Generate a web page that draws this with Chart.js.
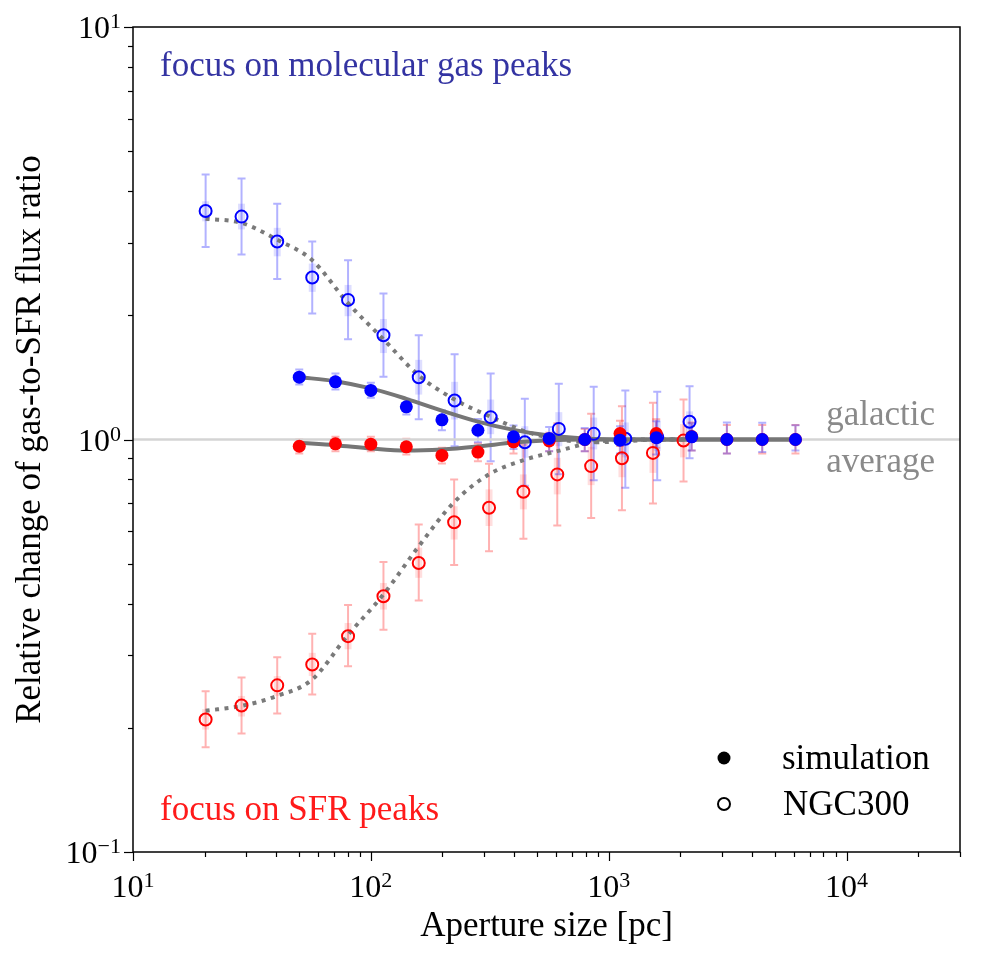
<!DOCTYPE html>
<html>
<head>
<meta charset="utf-8">
<script src="https://cdn.jsdelivr.net/npm/chart.js@4.4.0/dist/chart.umd.min.js"></script>
<style>
  html, body { margin: 0; padding: 0; background: #fff; }
  canvas { display: block; }
</style>
</head>
<body>
<canvas id="grafico" width="988" height="959"></canvas>
<script>
// valores (aperture size em pc, razão relativa)

// simulação
const simX = [50, 71, 100, 141, 199, 282, 398, 562, 793, 1116, 1585, 2233, 3140, 4422, 6100];
const simGas = [1.416, 1.38, 1.315, 1.20, 1.116, 1.053, 1.015, 1.006, 1.0, 0.996, 1.01, 1.015, 1.0, 1.0, 1.0];
const simGasLo = [1.359, 1.322, 1.262, 1.15, 1.053, 0.985, 0.949, 0.937, 0.937, 0.925, 0.92, 0.94, 0.925, 0.932, 0.94];
const simGasHi = [1.478, 1.445, 1.372, 1.255, 1.178, 1.122, 1.081, 1.073, 1.067, 1.077, 1.107, 1.095, 1.10, 1.098, 1.083];
const simSfr = [0.963, 0.976, 0.974, 0.960, 0.915, 0.932, 0.987, 0.992, 1.0, 1.034, 1.034, 1.017, 1.0, 1.0, 1.0];
const simSfrLo = [0.925, 0.937, 0.937, 0.92, 0.875, 0.886, 0.925, 0.937, 0.937, 0.965, 0.955, 0.94, 0.925, 0.925, 0.925];
const simSfrHi = [1.0, 1.015, 1.015, 1.004, 0.955, 0.978, 1.019, 1.038, 1.061, 1.11, 1.12, 1.10, 1.085, 1.085, 1.085];
// curvas contínuas (modelo) da simulação
const simGasFit = [1.416, 1.385, 1.33, 1.255, 1.175, 1.105, 1.055, 1.022, 1.006, 1.0, 1.0, 1.0, 1.0, 1.0, 1.0];
const simSfrFit = [0.982, 0.969, 0.951, 0.94, 0.946, 0.962, 0.983, 0.996, 1.0, 1.0, 1.0, 1.0, 1.0, 1.0, 1.0];

// NGC300 - foco nos picos de gás molecular
const ngcGasX = [20.2, 28.6, 40.4, 56.7, 80.2, 113, 159, 225, 319, 444, 617, 865, 1175, 1600, 2188];
const ngcGas = [3.58, 3.47, 3.02, 2.47, 2.18, 1.79, 1.416, 1.243, 1.133, 0.985, 1.061, 1.032, 1.004, 1.015, 1.104];
const ngcGasLo = [2.93, 2.81, 2.45, 2.02, 1.75, 1.42, 1.12, 0.963, 0.886, 0.773, 0.824, 0.796, 0.764, 0.797, 0.901];
const ngcGasHi = [4.39, 4.29, 3.73, 3.02, 2.72, 2.26, 1.79, 1.61, 1.445, 1.255, 1.365, 1.342, 1.315, 1.305, 1.347];
const ngcGasLo2 = [3.38, 3.23, 2.78, 2.28, 1.99, 1.62, 1.285, 1.118, 1.03, 0.903, 0.963, 0.946, 0.905, 0.937, 0.99];
const ngcGasHi2 = [3.78, 3.73, 3.26, 2.67, 2.37, 1.96, 1.56, 1.38, 1.25, 1.077, 1.165, 1.13, 1.10, 1.107, 1.17];
const ngcGasFit = [3.43, 3.35, 3.05, 2.72, 2.14, 1.75, 1.43, 1.25, 1.135, 1.047, 1.0, 0.985, 0.99, 1.0, 1.0];

// NGC300 - foco nos picos de SFR
const ngcSfrX = [20.2, 28.6, 40.4, 56.7, 80.2, 113, 159, 224, 314, 438, 608, 844, 1137, 1535, 2064];
const ngcSfr = [0.2095, 0.2265, 0.2535, 0.2847, 0.3336, 0.417, 0.502, 0.630, 0.683, 0.747, 0.823, 0.862, 0.901, 0.928, 0.994];
const ngcSfrLo = [0.1795, 0.1937, 0.2167, 0.241, 0.282, 0.346, 0.407, 0.496, 0.536, 0.575, 0.619, 0.645, 0.674, 0.70, 0.791];
const ngcSfrHi = [0.2454, 0.265, 0.2966, 0.338, 0.397, 0.505, 0.622, 0.80, 0.873, 0.971, 1.095, 1.154, 1.204, 1.227, 1.25];
const ngcSfrLo2 = [0.198, 0.213, 0.239, 0.267, 0.310, 0.387, 0.462, 0.572, 0.617, 0.677, 0.736, 0.775, 0.81, 0.83, 0.905];
const ngcSfrHi2 = [0.222, 0.239, 0.267, 0.304, 0.359, 0.449, 0.547, 0.689, 0.757, 0.823, 0.903, 0.96, 1.0, 1.04, 1.09];
const ngcSfrFit = [0.22, 0.226, 0.239, 0.262, 0.336, 0.421, 0.551, 0.705, 0.823, 0.891, 0.937, 0.982, 0.998, 1.0, 1.0];

// linha da média galáctica
const mediaX = [10, 30000];
const mediaY = [1, 1];

// eixos
const xMin = 10, xMax = 30000;
const yMin = 0.1, yMax = 10;
const xMajorTicks = [10, 100, 1000, 10000];
const xTickLabels = ['1', '2', '3', '4'];
const yMajorTicks = [0.1, 1, 10];
const yTickLabels = ['\u22121', '0', '1'];

const FONTE = "'Liberation Serif', 'DejaVu Serif', serif";
const AZUL = '#0000ff';
const VERMELHO = '#ff0000';

function pontos(xs, ys) {
    return xs.map((x, i) => ({ x: x, y: ys[i] }));
}

// ticks logarítmicos: 1..9 x 10^n dentro do intervalo
function ticksLog(min, max) {
    const lista = [];
    for (let e = Math.floor(Math.log10(min)); e <= Math.ceil(Math.log10(max)); e++) {
        for (let m = 1; m <= 9; m++) {
            const v = m * Math.pow(10, e);
            if (v >= min * 0.999 && v <= max * 1.001) lista.push({ value: v });
        }
    }
    return lista;
}

// barras de erro (finas com capa e largas sombreadas)
const barrasErro = [
    { xs: ngcSfrX, lo: ngcSfrLo2, hi: ngcSfrHi2, cor: 'rgba(255,0,0,0.13)', lw: 7, cap: 0 },
    { xs: ngcGasX, lo: ngcGasLo2, hi: ngcGasHi2, cor: 'rgba(0,0,255,0.13)', lw: 7, cap: 0 },
    { xs: ngcSfrX, lo: ngcSfrLo, hi: ngcSfrHi, cor: 'rgba(255,0,0,0.3)', lw: 2, cap: 4 },
    { xs: ngcGasX, lo: ngcGasLo, hi: ngcGasHi, cor: 'rgba(0,0,255,0.3)', lw: 2, cap: 4 },
    { xs: simX, lo: simSfrLo, hi: simSfrHi, cor: 'rgba(255,0,0,0.3)', lw: 2, cap: 4 },
    { xs: simX, lo: simGasLo, hi: simGasHi, cor: 'rgba(0,0,255,0.3)', lw: 2, cap: 4 }
];

function potencia(ctx, exp, x, y, alinhamento) {
    ctx.font = '32px ' + FONTE;
    const wb = ctx.measureText('10').width;
    ctx.font = '22px ' + FONTE;
    const we = ctx.measureText(exp).width;
    const total = wb + we;
    let x0 = x;
    if (alinhamento === 'right') x0 = x - total;
    else if (alinhamento === 'center') x0 = x - total / 2;
    ctx.textAlign = 'left';
    ctx.textBaseline = 'alphabetic';
    ctx.fillStyle = '#000';
    ctx.font = '32px ' + FONTE;
    ctx.fillText('10', x0, y + 11);
    ctx.font = '22px ' + FONTE;
    ctx.fillText(exp, x0 + wb, y + 1);
}

const decoracao = {
    id: 'decoracao',
    beforeDatasetsDraw(chart) {
        const ctx = chart.ctx;
        const xs = chart.scales.x, ys = chart.scales.y;
        const a = chart.chartArea;
        ctx.save();
        ctx.beginPath();
        ctx.rect(a.left, a.top, a.right - a.left, a.bottom - a.top);
        ctx.clip();
        barrasErro.forEach(b => {
            ctx.strokeStyle = b.cor;
            ctx.lineWidth = b.lw;
            ctx.lineCap = 'butt';
            b.xs.forEach((xv, i) => {
                const px = xs.getPixelForValue(xv);
                const p1 = ys.getPixelForValue(b.lo[i]);
                const p2 = ys.getPixelForValue(b.hi[i]);
                ctx.beginPath();
                ctx.moveTo(px, p1);
                ctx.lineTo(px, p2);
                if (b.cap > 0) {
                    ctx.moveTo(px - b.cap, p1);
                    ctx.lineTo(px + b.cap, p1);
                    ctx.moveTo(px - b.cap, p2);
                    ctx.lineTo(px + b.cap, p2);
                }
                ctx.stroke();
            });
        });
        ctx.restore();
    },
    afterDraw(chart) {
        const ctx = chart.ctx;
        const xs = chart.scales.x, ys = chart.scales.y;
        const a = chart.chartArea;
        ctx.save();

        // moldura
        ctx.strokeStyle = '#000';
        ctx.lineWidth = 1.5;
        ctx.strokeRect(a.left, a.top, a.right - a.left, a.bottom - a.top);

        // ticks maiores e menores
        ctx.lineWidth = 1.2;
        xs.ticks.forEach(t => {
            const maior = xMajorTicks.some(v => Math.abs(v - t.value) < 1e-6 * v);
            const px = Math.round(xs.getPixelForValue(t.value)) + 0.5;
            ctx.beginPath();
            ctx.moveTo(px, a.bottom);
            ctx.lineTo(px, a.bottom + (maior ? 9 : 5));
            ctx.stroke();
        });
        ys.ticks.forEach(t => {
            const maior = yMajorTicks.some(v => Math.abs(v - t.value) < 1e-6 * v);
            const py = Math.round(ys.getPixelForValue(t.value)) + 0.5;
            ctx.beginPath();
            ctx.moveTo(a.left, py);
            ctx.lineTo(a.left - (maior ? 9 : 5), py);
            ctx.stroke();
        });

        // rótulos dos ticks
        xMajorTicks.forEach((v, i) => {
            potencia(ctx, xTickLabels[i], xs.getPixelForValue(v), a.bottom + 34, 'center');
        });
        yMajorTicks.forEach((v, i) => {
            potencia(ctx, yTickLabels[i], a.left - 12, ys.getPixelForValue(v), 'right');
        });

        // títulos dos eixos
        ctx.fillStyle = '#000';
        ctx.font = '35px ' + FONTE;
        ctx.textAlign = 'center';
        ctx.textBaseline = 'alphabetic';
        ctx.fillText('Aperture size [pc]', (a.left + a.right) / 2 + 0, 936);
        ctx.save();
        ctx.translate(40, (a.top + a.bottom) / 2);
        ctx.rotate(-Math.PI / 2);
        ctx.fillText('Relative change of gas-to-SFR flux ratio', 0, 0);
        ctx.restore();

        // anotações
        ctx.textAlign = 'left';
        ctx.fillStyle = 'rgba(0,0,139,0.8)';
        ctx.fillText('focus on molecular gas peaks', 160, 76);
        ctx.fillStyle = '#ff1a1a';
        ctx.fillText('focus on SFR peaks', 160, 820);
        ctx.textAlign = 'right';
        ctx.fillStyle = '#8a8a8a';
        ctx.fillText('galactic', 935, 425);
        ctx.fillText('average', 935, 472);

        // legenda
        ctx.fillStyle = '#000';
        ctx.beginPath();
        ctx.arc(724, 758, 6.5, 0, Math.PI * 2);
        ctx.fill();
        ctx.strokeStyle = '#000';
        ctx.lineWidth = 2;
        ctx.beginPath();
        ctx.arc(724, 804, 6, 0, Math.PI * 2);
        ctx.stroke();
        ctx.textAlign = 'left';
        ctx.fillText('simulation', 782, 769);
        ctx.fillText('NGC300', 783, 815);

        ctx.restore();
    }
};

const marcador = (cor, aberto) => ({
    showLine: false,
    pointRadius: aberto ? 6 : 6.5,
    pointHoverRadius: aberto ? 6 : 6.5,
    pointBorderWidth: aberto ? 2 : 0,
    pointBorderColor: cor,
    pointBackgroundColor: aberto ? 'rgba(255,255,255,0)' : cor
});

const curva = (tracejado) => ({
    showLine: true,
    pointRadius: 0,
    borderColor: tracejado ? '#7a7a7a' : '#767676',
    borderWidth: 4,
    borderDash: tracejado ? [4, 5.5] : [],
    borderCapStyle: 'butt',
    cubicInterpolationMode: 'monotone',
    fill: false
});

const ctx = document.getElementById('grafico').getContext('2d');
const grafico = new Chart(ctx, {
    type: 'scatter',
    data: {
        datasets: [
            Object.assign({ label: 'sim gas', data: pontos(simX, simGas) }, marcador(AZUL, false)),
            Object.assign({ label: 'sim SFR', data: pontos(simX, simSfr) }, marcador(VERMELHO, false)),
            Object.assign({ label: 'NGC300 gas', data: pontos(ngcGasX, ngcGas) }, marcador(AZUL, true)),
            Object.assign({ label: 'NGC300 SFR', data: pontos(ngcSfrX, ngcSfr) }, marcador(VERMELHO, true)),
            Object.assign({ label: 'fit sim gas', data: pontos(simX, simGasFit) }, curva(false)),
            Object.assign({ label: 'fit sim SFR', data: pontos(simX, simSfrFit) }, curva(false)),
            Object.assign({ label: 'fit NGC gas', data: pontos(ngcGasX, ngcGasFit) }, curva(true)),
            Object.assign({ label: 'fit NGC SFR', data: pontos(ngcSfrX, ngcSfrFit) }, curva(true)),
            {
                label: 'média galáctica',
                data: pontos(mediaX, mediaY),
                showLine: true,
                pointRadius: 0,
                borderColor: '#d4d4d4',
                borderWidth: 2.5
            }
        ]
    },
    options: {
        responsive: false,
        devicePixelRatio: 1,
        animation: false,
        layout: { padding: { top: 27, right: 28, left: 0, bottom: 0 } },
        plugins: {
            legend: { display: false },
            tooltip: { enabled: false }
        },
        scales: {
            x: {
                type: 'logarithmic',
                min: xMin,
                max: xMax,
                grid: { display: false },
                border: { display: false },
                ticks: { display: false },
                afterBuildTicks: s => { s.ticks = ticksLog(xMin, xMax); },
                afterFit: s => { s.height = 107; }
            },
            y: {
                type: 'logarithmic',
                min: yMin,
                max: yMax,
                grid: { display: false },
                border: { display: false },
                ticks: { display: false },
                afterBuildTicks: s => { s.ticks = ticksLog(yMin, yMax); },
                afterFit: s => { s.width = 133; }
            }
        }
    },
    plugins: [decoracao]
});
</script>
</body>
</html>
